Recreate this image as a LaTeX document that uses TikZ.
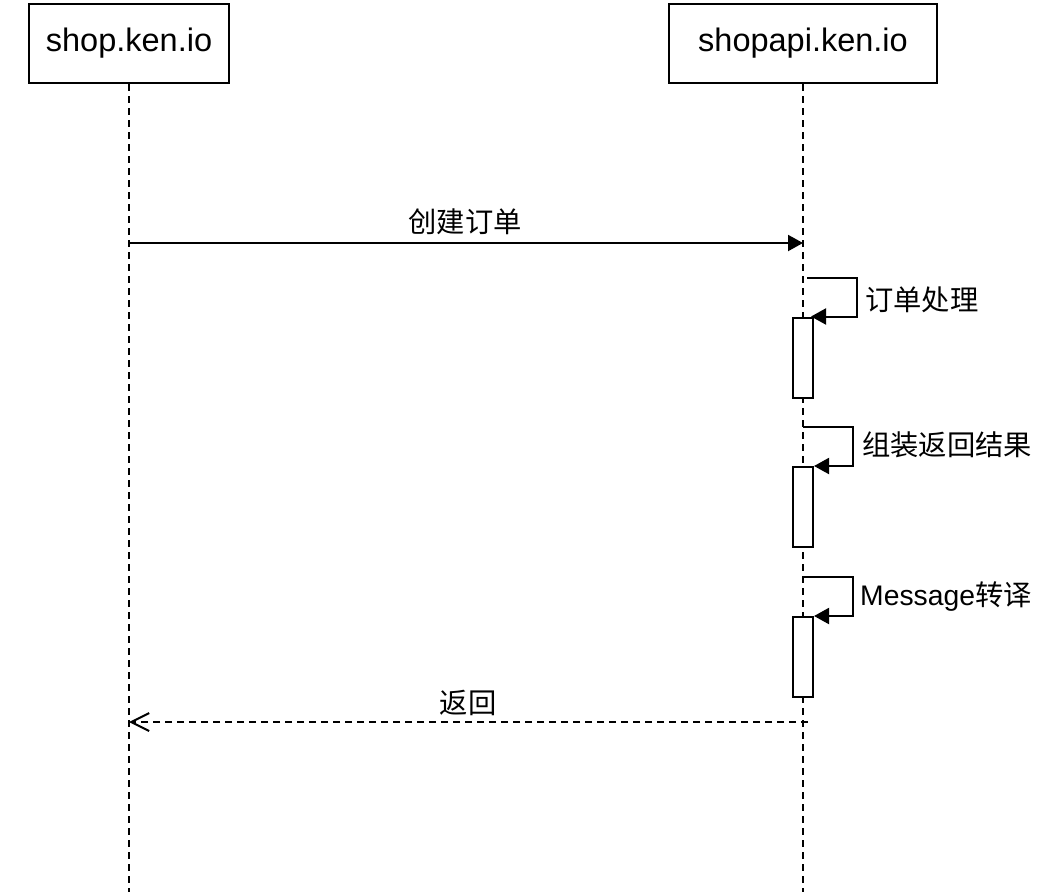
\documentclass[tikz,border=0pt]{standalone}
\usepackage{fontspec}
\setmainfont{Liberation Sans}
\newfontfamily\cjk{Noto Sans CJK SC}
\usetikzlibrary{arrows.meta}
\begin{document}
\begin{tikzpicture}[x=1pt,y=-1pt,
  party/.style={draw,line width=2pt,minimum width=200pt,minimum height=79pt,inner sep=0pt,font=\fontsize{32.5}{38}\selectfont},
  actbox/.style={draw,line width=2pt,fill=white,minimum width=20pt,minimum height=80pt,inner sep=0pt},
  life/.style={line width=2pt,dash pattern=on 7pt off 5pt},
  msg/.style={line width=2pt,-{Triangle[length=15pt,width=16pt]}},
  ret/.style={line width=2pt,dash pattern=on 7pt off 5pt,-{Straight Barb[length=18pt,width=18pt,line width=2pt]}},
  lbl/.style={font=\fontsize{28.3}{32}\selectfont,inner sep=0pt}]
\useasboundingbox (0,0) rectangle (1064,892);
\node[party] (A) at (129,43.5) {shop.ken.io};
\node[party,minimum width=268pt] (B) at (803,43.5) {shopapi.ken.io};
\coordinate (Aend) at (129,892);
\coordinate (Bend) at (803,892);
\draw[life] (A.south) -- (Aend);
\draw[life] (B.south) -- (Bend);
% activations
\node[actbox] (act1) at (803,357.5) {};
\node[actbox] (act2) at (803,507) {};
\node[actbox] (act3) at (803,657) {};
% create order
\coordinate (m1s) at (129,243);
\coordinate (m1e) at (803,243);
\draw[msg] (m1s) -- (m1e);
\node[lbl] (l1) at (465,222) {\cjk 创建订单};
% self messages
\coordinate (s1) at (807,278);
\draw[msg,line join=miter] (s1) -- (857,278) |- ([xshift=-3pt]act1.north east);
\node[lbl,anchor=west] (l2) at (865,300) {\cjk 订单处理};
\coordinate (s2) at (803,427);
\draw[msg,line join=miter] (s2) -- (853,427) |- (act2.north east);
\node[lbl,anchor=west] (l3) at (862,445) {\cjk 组装返回结果};
\coordinate (s3) at (803,577);
\draw[msg,line join=miter] (s3) -- (853,577) |- (act3.north east);
\node[lbl,anchor=west] (l4) at (860,597) {Message{\cjk 转译}};
% return
\coordinate (r1s) at (808,722);
\coordinate (r1e) at (129,722);
\draw[ret] (r1s) -- (r1e);
\node[lbl] (l5) at (468,703) {\cjk 返回};
\end{tikzpicture}
\end{document}
